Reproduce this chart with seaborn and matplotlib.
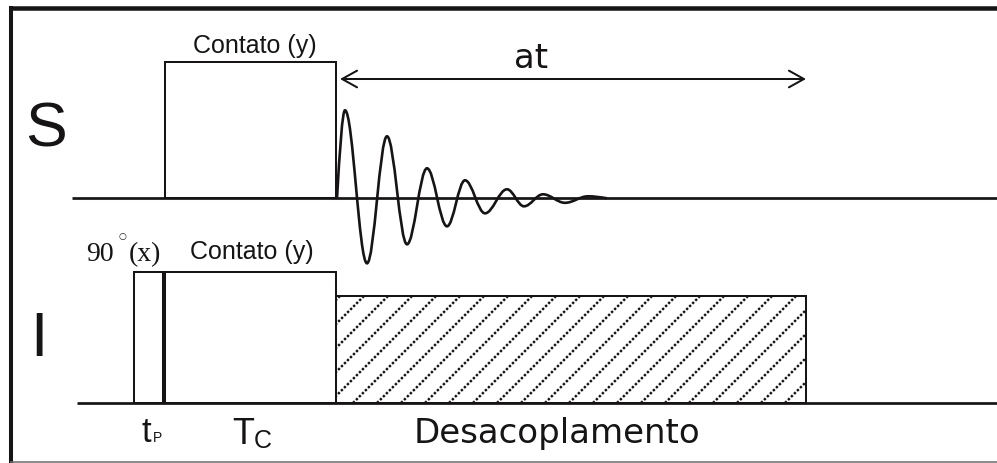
import numpy as np
import matplotlib
matplotlib.use("Agg")
import matplotlib.pyplot as plt
from matplotlib.path import Path
from matplotlib.patches import PathPatch
import seaborn as sns

# ---- pulse sequence data (time axis in drawing units) ----
pulse_channel = ["S", "I", "I", "I"]
pulse_label = ["Contato (y)", "90 (x)", "Contato (y)", "Desacoplamento"]
pulse_start = [165, 134, 164, 336]
pulse_end = [336, 164, 336, 806]
pulse_amp = [136, 131, 131, 107]

# free induction decay on S: extrema times and amplitudes
fid_t = [337, 345, 367, 387, 407, 427, 447, 465, 485, 507, 524, 543, 565, 588, 607]
fid_amp = [0, 88, -65, 62, -46, 30, -28, 18, -15, 9, -8, 4, -4.5, 2, 0]

# acquisition window
at_start, at_end = 340, 806

# ---- layout ----
W, H = 997, 463
base = {"S": H - 198.3, "I": H - 403}
line_from = {"S": 72, "I": 77}
INK = "#161414"

sns.set_style("white")
plt.rcParams["font.family"] = ["Liberation Sans", "DejaVu Sans"]

fig = plt.figure(figsize=(W / 100, H / 100), dpi=100)
ax = fig.add_axes([0, 0, 1, 1])
ax.set_xlim(0, W)
ax.set_ylim(0, H)
ax.axis("off")


def yp(v):
    """vertical position measured from the top edge"""
    return H - v


# channel baselines
for ch in ["S", "I"]:
    sns.lineplot(x=[line_from[ch], W], y=[base[ch], base[ch]], ax=ax,
                 color=INK, lw=1.95, legend=False, solid_capstyle="butt")

# pulses as outlined bars
bars = []
for ch, s, e, a in zip(pulse_channel, pulse_start, pulse_end, pulse_amp):
    b = ax.bar(s, a, width=e - s, bottom=base[ch], align="edge",
               facecolor="none", edgecolor=INK, linewidth=1.45, zorder=3)
    bars.append(b.patches[0])

# thick edge closing the 90-degree pulse
ax.plot([pulse_end[1], pulse_end[1]], [base["I"], base["I"] + pulse_amp[1]],
        color=INK, lw=2.9, solid_capstyle="butt", zorder=4)

# dotted diagonal hatching inside the decoupling block
dec = bars[3]
d0, d1 = pulse_start[3], pulse_end[3]
top = base["I"] + pulse_amp[3]
for c in np.arange(d0 + 4 - 24 * 6, d1 + 24 * 6, 24):
    ln, = ax.plot([c - pulse_amp[3], c], [base["I"], top], color=INK, lw=1.75,
                  linestyle=(0, (1.0, 0.75)), zorder=2)
    ln.set_clip_path(dec)

# FID drawn as smooth half-waves between successive extrema
sb = base["S"]
verts = [(fid_t[0], sb + fid_amp[0])]
codes = [Path.MOVETO]
n = len(fid_t)
for i in range(n - 1):
    x0, y0 = fid_t[i], sb + fid_amp[i]
    x1, y1 = fid_t[i + 1], sb + fid_amp[i + 1]
    dx, dy = x1 - x0, y1 - y0
    if i == 0:
        c1 = (x0 + dx / 3, y0 + dy * np.pi / 6)
        c2 = (x0 + 2 * dx / 3, y1)
    elif i == n - 2:
        c1 = (x0 + dx / 3, y0)
        c2 = (x0 + 2 * dx / 3, y1 - dy * np.pi / 6)
    else:
        c1 = (x0 + 0.363 * dx, y0)
        c2 = (x1 - 0.363 * dx, y1)
    verts += [c1, c2, (x1, y1)]
    codes += [Path.CURVE4] * 3
ax.add_patch(PathPatch(Path(verts, codes), facecolor="none", edgecolor=INK,
                       lw=1.9, zorder=4))

# acquisition time arrow
ax.annotate("", xy=(at_end, yp(79)), xytext=(at_start, yp(79)),
            arrowprops=dict(arrowstyle="<->,head_length=0.9,head_width=0.5",
                            lw=1.45, color=INK, shrinkA=0, shrinkB=0,
                            mutation_scale=12))
ax.text((at_start + at_end) / 2 - 42, yp(68.3), "at", fontsize=24.5,
        family="DejaVu Sans", ha="center", va="baseline", color=INK)

# channel names
ax.text(46.5, yp(146.5), "S", fontsize=45, ha="center", va="baseline", color=INK)
ax.text(38.5, yp(356), "I", fontsize=45, ha="center", va="baseline", color=INK)

# pulse captions
ax.text((pulse_start[0] + pulse_end[0]) / 2 + 4, yp(52.5), pulse_label[0],
        fontsize=18, ha="center", va="baseline", color=INK)
ax.text((pulse_start[2] + pulse_end[2]) / 2 + 1.5, yp(259.5), pulse_label[2],
        fontsize=18, ha="center", va="baseline", color=INK)
ax.text(86.5, yp(260.7), "90", fontsize=20, family="Liberation Serif",
        ha="left", va="baseline", color=INK)
ax.text(122, yp(237), "\u25cb", fontsize=6.5, family="DejaVu Sans",
        ha="center", va="center", color=INK)
ax.text(128.5, yp(260.7), "(x)", fontsize=20, family="Liberation Serif",
        ha="left", va="baseline", color=INK)

# time interval labels
ax.text(141, yp(442), "t", fontsize=25, ha="left", va="baseline", color=INK)
ax.text(152.5, yp(442), "P", fontsize=10, ha="left", va="baseline", color=INK)
ax.text(232, yp(444), "T", fontsize=26, ha="left", va="baseline", color=INK)
ax.text(254, yp(448), "C", fontsize=18, ha="left", va="baseline", color=INK)
ax.text(556.5, yp(443.3), pulse_label[3], fontsize=24.5, family="DejaVu Sans",
        ha="center", va="baseline", color=INK)

# frame
ax.plot([9.3, W], [yp(8.3), yp(8.3)], color=INK, lw=3.25,
        solid_capstyle="butt", clip_on=False)
ax.plot([11.3, 11.3], [yp(6), 0], color=INK, lw=2.9,
        solid_capstyle="butt", clip_on=False)
ax.plot([10, W], [yp(461.6), yp(461.6)], color="#6b6b6b", lw=1.1,
        solid_capstyle="butt", clip_on=False)

fig.savefig("out.png", dpi=100, facecolor="white")
